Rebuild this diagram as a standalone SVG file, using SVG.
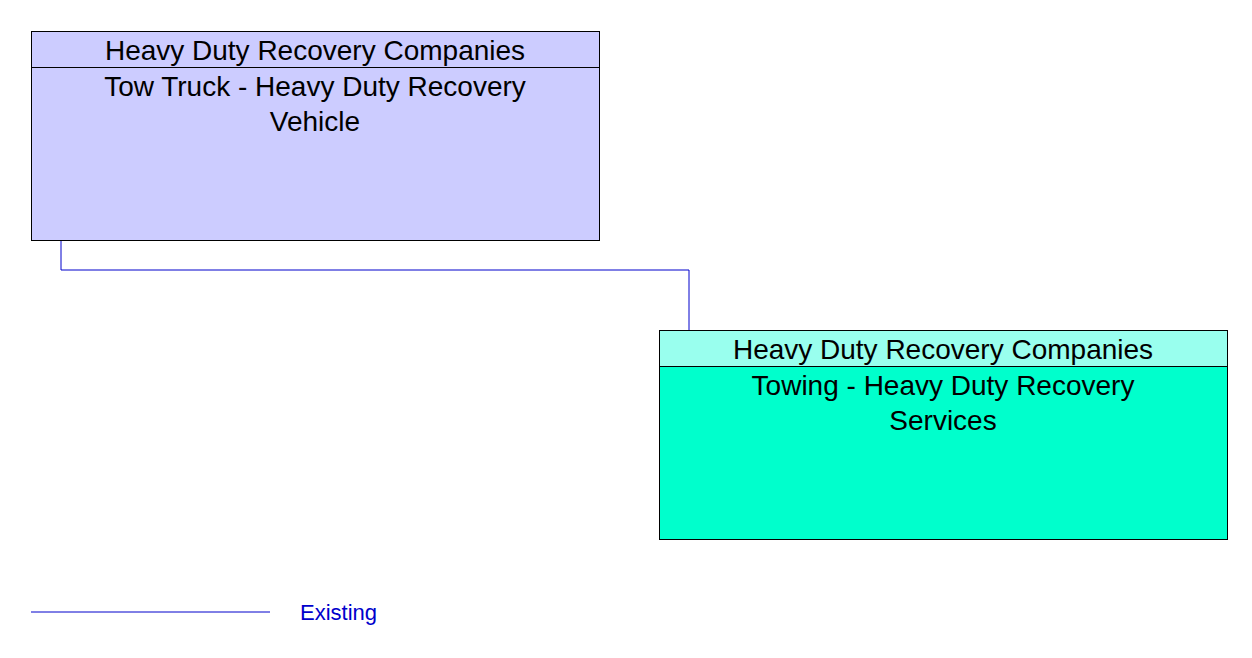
<svg xmlns="http://www.w3.org/2000/svg" width="1252" height="658" viewBox="0 0 1252 658">
<style>
.b{stroke:#000;stroke-width:1}
.t{font-family:"Liberation Sans",Arial,sans-serif;font-size:28px;fill:#000;text-anchor:middle}
.c{stroke:#0000cc;stroke-width:1;fill:none}
</style>
<rect width="1252" height="658" fill="#fff"/>
<g id="connectors">
<polyline class="c" points="61,240 61,270 689,270 689,330"/>
</g>
<g id="n1">
<rect class="b" x="31.500" y="31.500" width="568" height="36" fill="#ccccff"/>
<rect class="b" x="31.500" y="67.500" width="568" height="173" fill="#ccccff"/>
<text class="t" x="315" y="60">Heavy Duty Recovery Companies</text>
<text class="t" x="315" y="96">Tow Truck - Heavy Duty Recovery</text>
<text class="t" x="315" y="131">Vehicle</text>
</g>
<g id="n2">
<rect class="b" x="659.500" y="330.500" width="568" height="36" fill="#99ffee"/>
<rect class="b" x="659.500" y="366.500" width="568" height="173" fill="#00ffcc"/>
<text class="t" x="943" y="359">Heavy Duty Recovery Companies</text>
<text class="t" x="943" y="395">Towing - Heavy Duty Recovery</text>
<text class="t" x="943" y="430">Services</text>
</g>
<g id="legend">
<line class="c" x1="31" y1="612" x2="270" y2="612"/>
<text x="300" y="620" style="font-family:'Liberation Sans',Arial,sans-serif;font-size:22px;fill:#0000cc">Existing</text>
</g>
</svg>
